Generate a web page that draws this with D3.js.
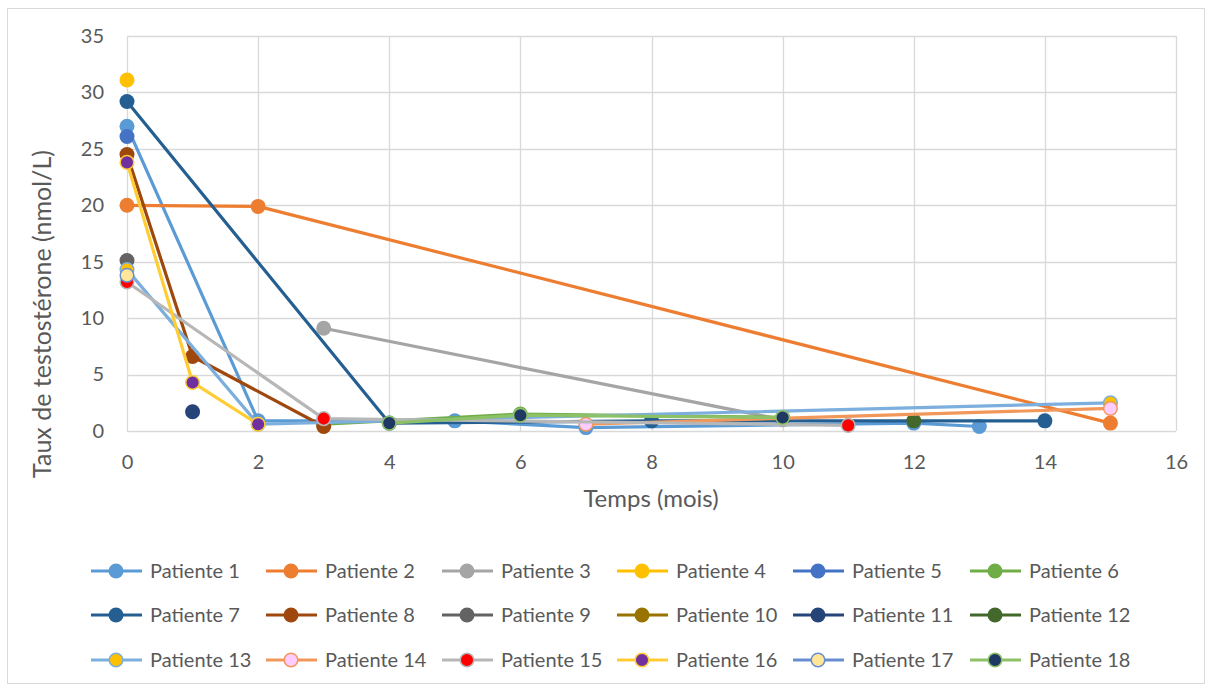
<!DOCTYPE html>
<html lang="fr">
<head>
<meta charset="UTF-8">
<style>
  body { margin: 0; background: #fff; }
  text { font-family: Lato, "Open Sans", sans-serif; fill: #595959; }
</style>
</head>
<body>
<script src="https://d3js.org/d3.v7.min.js"></script>
<script>
// values: [month, nmol/L]
var p1 = [[0, 27.0], [2, 0.9], [5, 0.9], [7, 0.3], [12, 0.7], [13, 0.4]];
var p2 = [[0, 20.0], [2, 19.9], [15, 0.7]];
var p3 = [[3, 9.1], [10, 1.0]];
var p4 = [[0, 31.1]];
var p5 = [[0, 26.1]];
var p6 = [[3, 0.6], [6, 1.5], [10, 1.2]];
var p7 = [[0, 29.2], [4, 0.7], [8, 0.9], [14, 0.9]];
var p8 = [[0, 24.5], [1, 6.6], [3, 0.4]];
var p9 = [[0, 15.1]];
var p10 = [];
var p11 = [[1, 1.7]];
var p12 = [[12, 0.9]];
var p13 = [[0, 14.3], [2, 0.6], [15, 2.5]];
var p14 = [[7, 0.6], [15, 2.0]];
var p15 = [[0, 13.2], [3, 1.1], [11, 0.5]];
var p16 = [[0, 23.8], [1, 4.3], [2, 0.6]];
var p17 = [[0, 13.8]];
var p18 = [[4, 0.7], [6, 1.4], [10, 1.2]];

var series = [p1, p2, p3, p4, p5, p6, p7, p8, p9, p10, p11, p12, p13, p14, p15, p16, p17, p18];
var names = series.map(function(d, i) { return 'Patiente ' + (i + 1); });

var lineColors = ['#5B9BD5', '#ED7D31', '#A5A5A5', '#FFC000', '#4472C4', '#70AD47',
                  '#255E91', '#9E480E', '#636363', '#997300', '#264478', '#43682B',
                  '#7CAFDD', '#F1975A', '#B7B7B7', '#FFCD33', '#698ED0', '#8CC168'];
var markerFills = [null, null, null, null, null, null, null, null, null, null, null, null,
                   '#FFC000', '#FFCCFF', '#FF0000', '#7030A0', '#FFE699', '#203864'];

var xTicks = [0, 2, 4, 6, 8, 10, 12, 14, 16];
var yTicks = [0, 5, 10, 15, 20, 25, 30, 35];

var W = 1213, H = 691;
var svg = d3.select('body').append('svg').attr('width', W).attr('height', H);

svg.append('rect')
    .attr('x', 7.5).attr('y', 8.5).attr('width', 1197).attr('height', 675)
    .attr('fill', '#fff').attr('stroke', '#D9D9D9');

var x = d3.scaleLinear().domain([0, 16]).range([127, 1176]);
var y = d3.scaleLinear().domain([0, 35]).range([431, 36]);

// grid
svg.append('g').selectAll('line').data(yTicks).enter().append('line')
    .attr('x1', x(0)).attr('x2', x(16))
    .attr('y1', function(d) { return Math.round(y(d)) + 0.5; })
    .attr('y2', function(d) { return Math.round(y(d)) + 0.5; })
    .attr('stroke', '#D9D9D9').attr('stroke-width', 1.3);
svg.append('g').selectAll('line').data(xTicks).enter().append('line')
    .attr('y1', y(0)).attr('y2', y(35))
    .attr('x1', function(d) { return Math.round(x(d)) + 0.5; })
    .attr('x2', function(d) { return Math.round(x(d)) + 0.5; })
    .attr('stroke', '#D9D9D9').attr('stroke-width', 1.3);

// axes labels via d3 axes
var yAxis = svg.append('g').attr('transform', 'translate(' + x(0) + ',0)')
    .call(d3.axisLeft(y).tickValues(yTicks).tickSize(0).tickPadding(23));
var xAxis = svg.append('g').attr('transform', 'translate(0,' + y(0) + ')')
    .call(d3.axisBottom(x).tickValues(xTicks).tickSize(0).tickPadding(24));
[yAxis, xAxis].forEach(function(a) {
  a.select('.domain').remove();
  a.selectAll('text').attr('font-size', 20).attr('fill', '#595959')
    .style('font-family', 'Lato, "Open Sans", sans-serif');
});

svg.append('text')
    .attr('x', 651).attr('y', 507).attr('text-anchor', 'middle')
    .attr('font-size', 24).text('Temps (mois)');
svg.append('text')
    .attr('transform', 'translate(51,314) rotate(-90)').attr('text-anchor', 'middle')
    .attr('font-size', 25).text('Taux de testostérone (nmol/L)');

// series
var line = d3.line().x(function(d) { return x(d[0]); }).y(function(d) { return y(d[1]); });

series.forEach(function(data, i) {
  var g = svg.append('g');
  if (data.length > 1) {
    g.append('path').attr('d', line(data))
        .attr('fill', 'none').attr('stroke', lineColors[i])
        .attr('stroke-width', 3.2).attr('stroke-linejoin', 'round');
  }
  g.selectAll('circle').data(data).enter().append('circle')
      .attr('cx', function(d) { return x(d[0]); })
      .attr('cy', function(d) { return y(d[1]); })
      .attr('r', markerFills[i] ? 6.8 : 7.5)
      .attr('fill', markerFills[i] || lineColors[i])
      .attr('stroke', markerFills[i] ? lineColors[i] : 'none')
      .attr('stroke-width', 1.5);
});

// legend
var legend = svg.append('g');
var colX = [151, 326, 502, 677, 853, 1030];
var rowY = [571, 615, 660];
names.forEach(function(n, i) {
  var tx = colX[i % 6], ty = rowY[Math.floor(i / 6)];
  var g = legend.append('g');
  g.append('line')
      .attr('x1', tx - 60).attr('x2', tx - 9).attr('y1', ty).attr('y2', ty)
      .attr('stroke', lineColors[i]).attr('stroke-width', 3.2);
  g.append('circle')
      .attr('cx', tx - 35).attr('cy', ty)
      .attr('r', markerFills[i] ? 6.8 : 7.5)
      .attr('fill', markerFills[i] || lineColors[i])
      .attr('stroke', markerFills[i] ? lineColors[i] : 'none')
      .attr('stroke-width', 1.5);
  g.append('text')
      .attr('x', tx - 1).attr('y', ty + 7)
      .attr('font-size', 20).text(n);
});
</script>
</body>
</html>
